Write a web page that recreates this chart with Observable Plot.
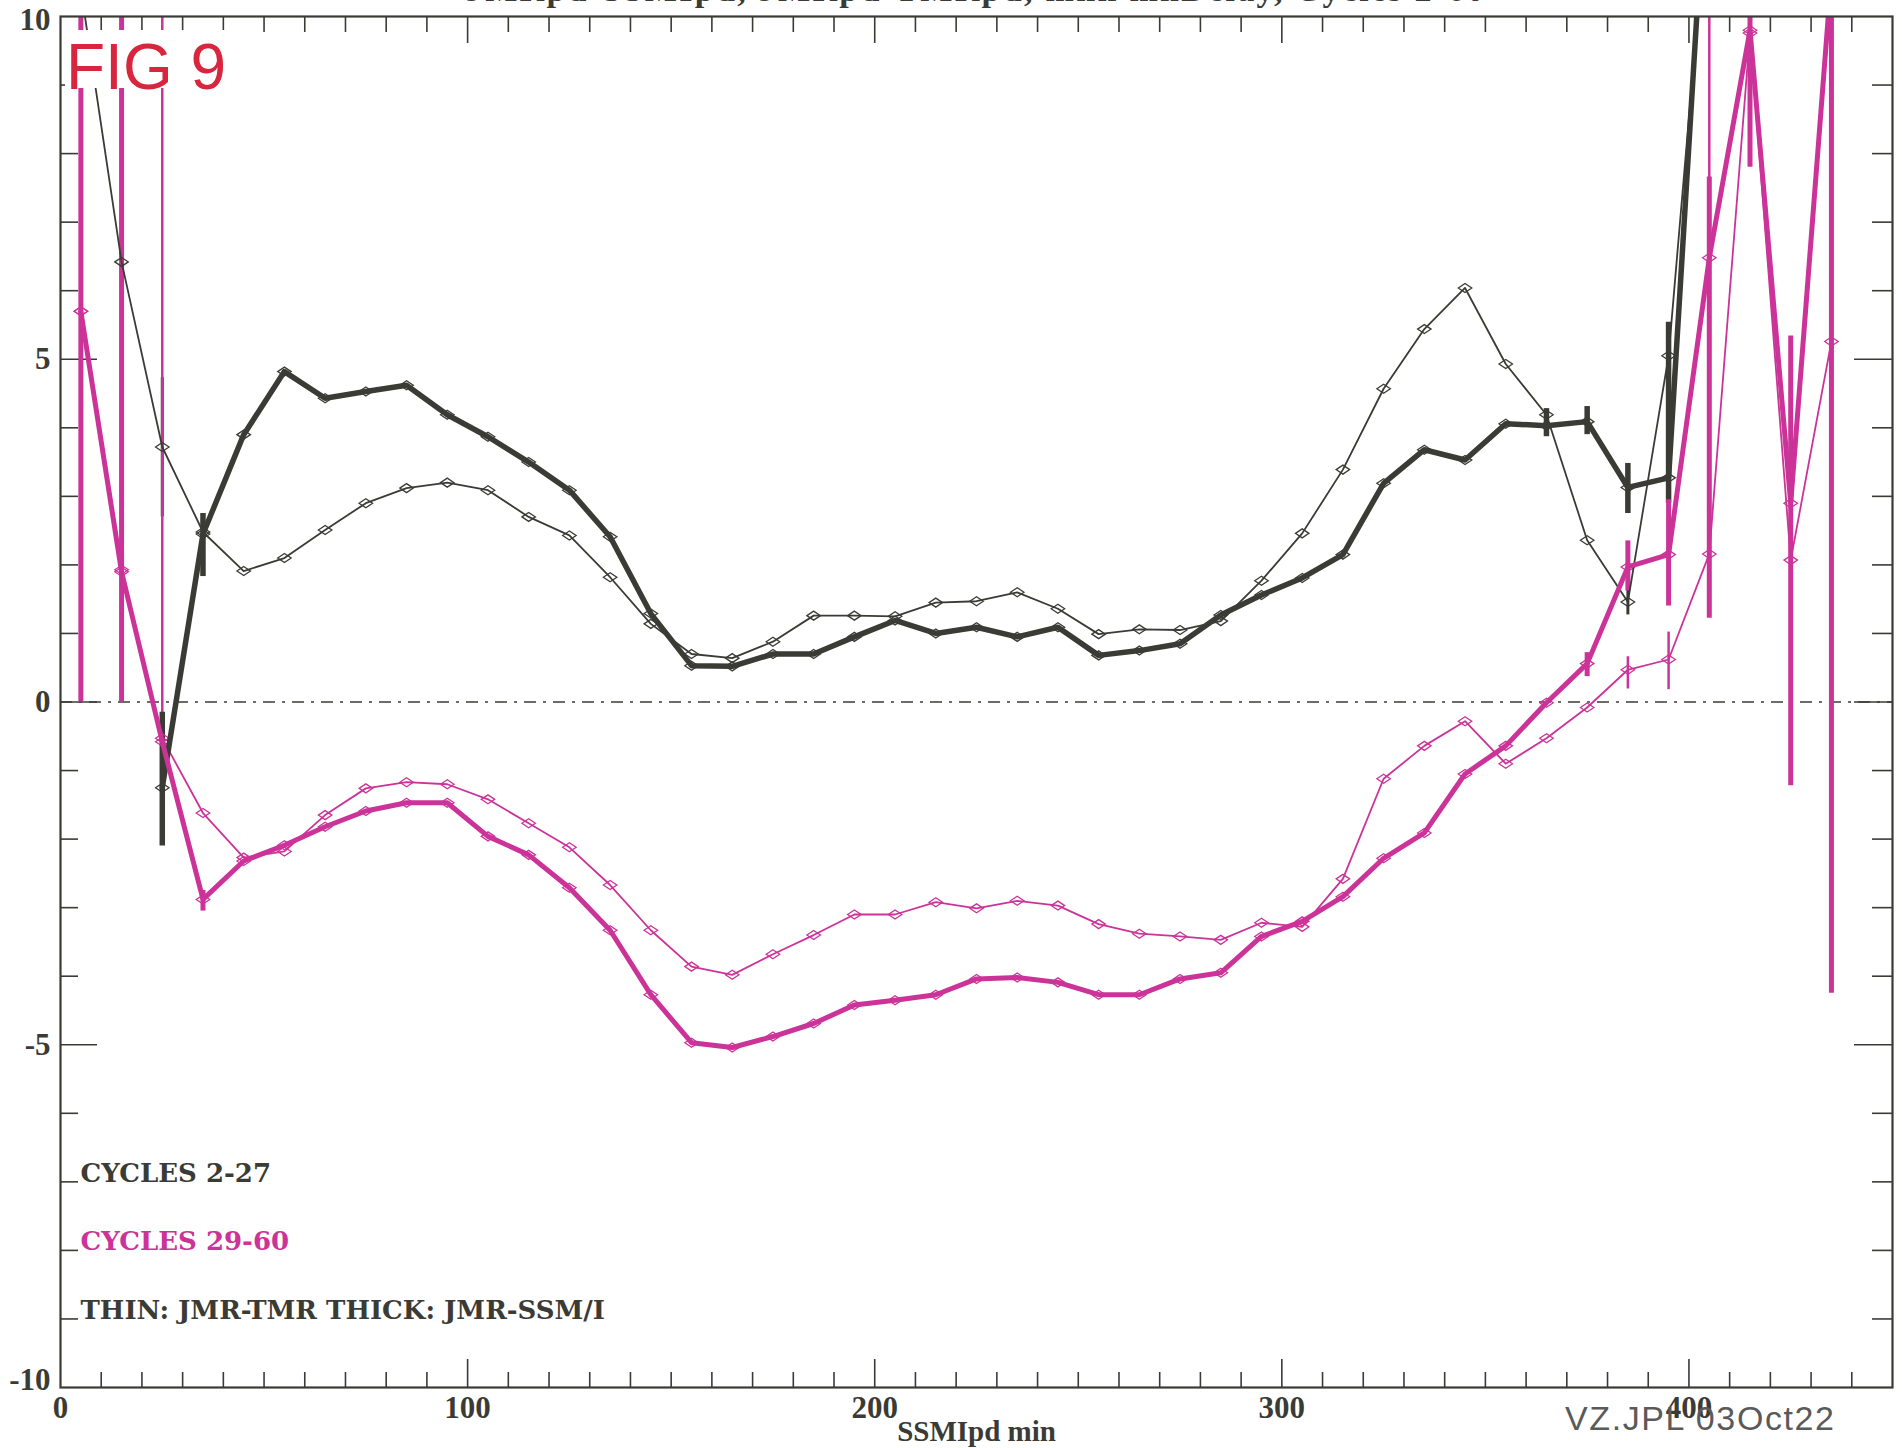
<!DOCTYPE html>
<html>
<head>
<meta charset="utf-8">
<script src="https://cdn.jsdelivr.net/npm/d3@7"></script>
<script src="https://cdn.jsdelivr.net/npm/@observablehq/plot@0.6"></script>
<style>
  html, body { margin: 0; padding: 0; background: #fff; }
  #wrap { position: relative; width: 1902px; height: 1448px; overflow: hidden; background: #fff; }
  #chart svg { display: block; }
  #title { position: absolute; left: 60px; width: 1832px; top: -27px; text-align: center;
           font: bold 34px "Liberation Serif", serif; letter-spacing: 2.3px; line-height: 34px;
           color: #3b3b36; white-space: nowrap; }
  #fig { position: absolute; left: 65px; top: 30px; height: 58px; line-height: 56px; padding: 0 2px 0 1px;
         font: 64px "Liberation Sans", Arial, sans-serif; color: #d7263d; background: #fff; white-space: nowrap; }
  #stamp { position: absolute; left: 1565px; top: 1399px; line-height: 34px; letter-spacing: 1.6px;
           font: 34px "Liberation Sans", Arial, sans-serif; color: #5a5a5a; white-space: nowrap; }
</style>
</head>
<body>
<div id="wrap">
  <div id="chart"></div>
  <div id="title">JMRpd-SSMIpd, JMRpd-TMRpd, mnn mnDelay, Cycles 2-60</div>
  <div id="fig">FIG 9</div>
  <div id="stamp">VZ.JPL 03Oct22</div>
</div>
<script>
// ---------------- data ----------------
const bins = [5,15,25,35,45,55,65,75,85,95,105,115,125,135,145,155,165,175,185,195,205,215,225,235,245,255,265,275,285,295,305,315,325,335,345,355,365,375,385,395,405,415,425,435];

// thin black: JMR-TMR, cycles 2-27
const tmrEarly = [10.4,6.42,3.72,2.48,1.91,2.1,2.51,2.9,3.12,3.2,3.09,2.7,2.43,1.82,1.14,0.7,0.64,0.88,1.26,1.26,1.25,1.45,1.47,1.6,1.36,0.99,1.06,1.05,1.18,1.77,2.46,3.39,4.57,5.44,6.04,4.93,4.19,2.36,1.46,5.05,12,null,null,null];
// thick black: JMR-SSM/I, cycles 2-27
const ssmiEarly = [null,null,-1.25,2.45,3.9,4.82,4.43,4.53,4.62,4.19,3.87,3.5,3.09,2.41,1.29,0.53,0.52,0.7,0.7,0.95,1.19,1.0,1.09,0.95,1.09,0.68,0.75,0.85,1.27,1.56,1.81,2.15,3.19,3.68,3.53,4.06,4.03,4.09,3.13,3.27,13,null,null,null];
// thin magenta: JMR-TMR, cycles 29-60
const tmrLate = [5.7,1.93,-0.53,-1.62,-2.27,-2.18,-1.65,-1.26,-1.17,-1.2,-1.42,-1.77,-2.12,-2.67,-3.33,-3.86,-3.98,-3.68,-3.4,-3.1,-3.1,-2.92,-3.01,-2.9,-2.97,-3.24,-3.38,-3.42,-3.47,-3.22,-3.28,-2.58,-1.12,-0.64,-0.28,-0.9,-0.53,-0.08,0.47,0.62,2.16,9.76,2.07,5.26];
// thick magenta: JMR-SSM/I, cycles 29-60
const ssmiLate = [5.7,1.9,-0.58,-2.88,-2.32,-2.09,-1.82,-1.59,-1.47,-1.47,-1.96,-2.23,-2.71,-3.33,-4.27,-4.97,-5.04,-4.88,-4.69,-4.42,-4.35,-4.27,-4.04,-4.02,-4.09,-4.27,-4.27,-4.04,-3.95,-3.42,-3.2,-2.84,-2.28,-1.91,-1.05,-0.64,-0.01,0.56,1.97,2.15,6.48,9.8,2.9,10.6];

// spread bars [bin, low, high]
const tmrEarlyBars  = [[25,2.7,4.73],[385,1.27,1.8]];
const ssmiEarlyBars = [[25,-2.1,-0.15],[35,1.83,2.75],[365,3.87,4.28],[375,3.9,4.31],[385,2.75,3.48],[395,2.9,5.54]];
const tmrLateBars   = [[25,-0.55,12],[385,0.19,0.66],[395,0.18,1.02],[405,2.16,12]];
const ssmiLateBars  = [[5,0,12],[15,0,12],[35,-3.05,-2.75],[375,0.37,0.72],[385,1.62,2.35],[395,1.4,2.95],[405,1.22,7.66],[415,7.8,10.4],[425,-1.22,5.34],[435,-4.25,12]];

const xTickLabels = [0,100,200,300,400];
const yTickLabels = [-5,0,5];
const yTopLabel = [10];
const yBottomLabel = [-10];
const xAxisLabel = "SSMIpd min";
const legendLabels = ["CYCLES 2-27","CYCLES 29-60","THIN: JMR-TMR THICK: JMR-SSM/I"];

// ---------------- styling ----------------
const INK = "#3b3b36", PINK = "#cc3399";
const legendColors = [INK, PINK, INK];
const W = 1902, H = 1448, ML = 60, MR = 10, MT = 16, MB = 61;
const FW = W - ML - MR, FH = H - MT - MB;

const wideDiamond = {
  draw(ctx, size) {
    const r = Math.sqrt(size / Math.PI);
    ctx.moveTo(-1.35 * r, 0); ctx.lineTo(0, -0.9 * r);
    ctx.lineTo(1.35 * r, 0); ctx.lineTo(0, 0.9 * r); ctx.closePath();
  }
};

const series = [
  {values: tmrEarly,  bars: tmrEarlyBars,  color: INK,  width: 1.8, barWidth: 3},
  {values: tmrLate,   bars: tmrLateBars,   color: PINK, width: 1.8, barWidth: 2.5},
  {values: ssmiEarly, bars: ssmiEarlyBars, color: INK,  width: 5.5, barWidth: 5.5},
  {values: ssmiLate,  bars: ssmiLateBars,  color: PINK, width: 5,   barWidth: 5}
];
const rowsOf = s => bins.map((x, i) => ({x, y: s.values[i] == null ? NaN : s.values[i]}));

const xMinor = d3.range(10, 450, 10).filter(v => v % 100 !== 0);
const xMajor = d3.range(100, 450, 100);
const yMinor = d3.range(-9, 10).filter(v => v % 5 !== 0);
const yMajor = [-5, 0, 5];

const tick = {stroke: INK, strokeWidth: 1.6};
const marks = [
  Plot.ruleY([0], {stroke: INK, strokeWidth: 1.6, strokeDasharray: "12,7,3,7"}),
  Plot.ruleX(xMinor, {...tick, insetTop: FH - 15}),
  Plot.ruleX(xMajor, {...tick, insetTop: FH - 28}),
  Plot.ruleX(xMinor, {...tick, insetBottom: FH - 16}),
  Plot.ruleX(xMajor, {...tick, insetBottom: FH - 27}),
  Plot.ruleY(yMinor, {...tick, insetRight: FW - 18}),
  Plot.ruleY(yMajor, {...tick, insetRight: FW - 37}),
  Plot.ruleY(yMinor, {...tick, insetLeft: FW - 20}),
  Plot.ruleY(yMajor, {...tick, insetLeft: FW - 38})
];
for (const s of series) {
  marks.push(Plot.ruleX(s.bars, {x: d => d[0], y1: d => d[1], y2: d => d[2], stroke: s.color, strokeWidth: s.barWidth, clip: true}));
}
for (const s of series) {
  marks.push(Plot.dot(rowsOf(s).filter(d => !isNaN(d.y)), {x: "x", y: "y", symbol: wideDiamond, r: 5, fill: "none", stroke: s.color, strokeWidth: 1.3, clip: true}));
}
for (const s of series) {
  marks.push(Plot.line(rowsOf(s), {x: "x", y: "y", stroke: s.color, strokeWidth: s.width, strokeLinejoin: "round", clip: true}));
}
const yLab = {text: d => String(d), frameAnchor: "left", dx: -10, textAnchor: "end", lineAnchor: "middle", fill: INK};
marks.push(
  Plot.frame({stroke: INK, strokeWidth: 2.2}),
  Plot.text(xTickLabels, {x: d => d, text: d => String(d), frameAnchor: "bottom", dy: 21, lineAnchor: "middle", fill: INK}),
  Plot.text(yTickLabels, {y: d => d, ...yLab}),
  Plot.text(yTopLabel, {y: d => d, ...yLab, dy: 4}),
  Plot.text(yBottomLabel, {y: d => d, ...yLab, dy: -7}),
  Plot.text([xAxisLabel], {text: d => d, frameAnchor: "bottom", dy: 44, lineAnchor: "middle", fill: INK, fontSize: 29}),
  Plot.text(legendLabels, {y: (d, i) => -7 - i, text: d => d, frameAnchor: "left", dx: 20, textAnchor: "start", lineAnchor: "bottom",
    fill: (d, i) => legendColors[i], fontFamily: "'DejaVu Serif', serif", fontSize: 26, fontWeight: "bold"})
);

const chart = Plot.plot({
  width: W, height: H, marginLeft: ML, marginRight: MR, marginTop: MT, marginBottom: MB,
  x: {domain: [0, 450], axis: null},
  y: {domain: [-10, 10], axis: null},
  style: {fontFamily: "'Liberation Serif', 'Times New Roman', serif", fontWeight: "bold", fontSize: "31px", color: INK, background: "white"},
  marks
});
document.getElementById("chart").appendChild(chart);
</script>
</body>
</html>
